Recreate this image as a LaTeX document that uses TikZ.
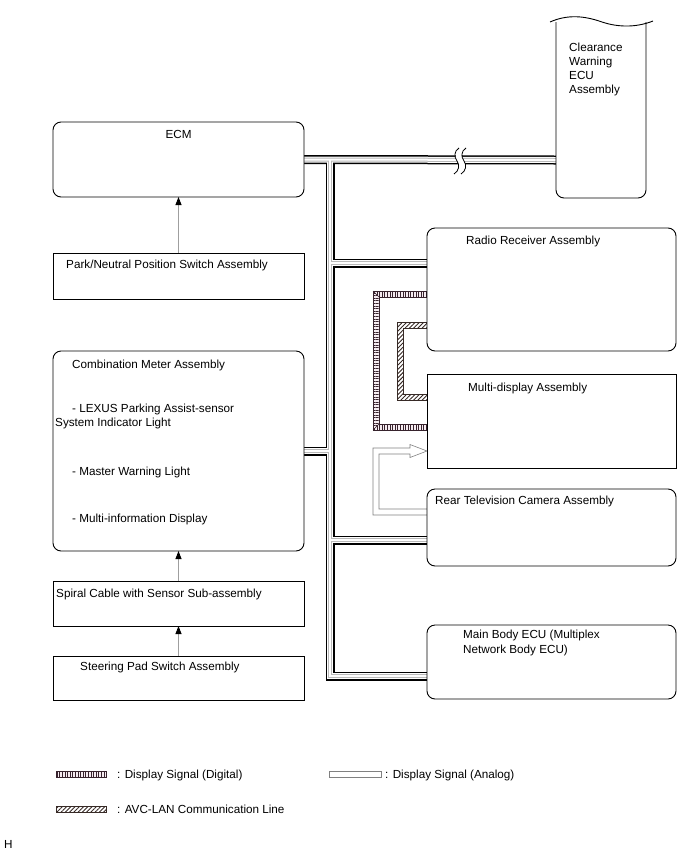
\documentclass[tikz,border=0pt]{standalone}
\usepackage{fontspec}
\setmainfont{Liberation Sans}
\usetikzlibrary{arrows.meta,patterns.meta,backgrounds}
\definecolor{dig}{RGB}{55,35,45}
\definecolor{digbg}{RGB}{246,236,241}
\definecolor{avc}{RGB}{55,42,38}
\begin{document}
\begin{tikzpicture}[x=1pt,y=1pt,
  font=\fontsize{11.7}{14}\selectfont,
  box/.style={draw=black, line width=0.9pt, fill=white, rounded corners=8pt, inner sep=0pt, outer sep=0pt, anchor=north west},
  sbox/.style={draw=black, line width=0.9pt, fill=white, inner sep=0pt, outer sep=0pt, anchor=north west},
  lbl/.style={anchor=base west, inner sep=0pt},
  arr/.style={draw=gray!75, line width=0.9pt, -{Triangle[length=8pt,width=6pt,color=black]}},
  sigline/.style={line width=0.6pt}]
\useasboundingbox (0,0) rectangle (688,-852);

% ---------- boxes ----------
\node[box,  minimum width=251pt, minimum height=75pt]  (ecm)    at (53,-122) {};
\node[sbox, minimum width=251pt, minimum height=46pt]  (park)   at (53,-253) {};
\node[box,  minimum width=251pt, minimum height=200pt] (comb)   at (53,-351) {};
\node[sbox, minimum width=251pt, minimum height=45pt]  (spiral) at (53,-581) {};
\node[sbox, minimum width=251pt, minimum height=44pt]  (steer)  at (53,-656) {};
\node[box,  minimum width=249pt, minimum height=123pt] (radio)  at (427,-228) {};
\node[sbox, minimum width=249pt, minimum height=94pt]  (multi)  at (427,-374) {};
\node[box,  minimum width=249pt, minimum height=77pt]  (rear)   at (427,-489) {};
\node[box,  minimum width=249pt, minimum height=74pt]  (body)   at (427,-625) {};

% Clearance warning ECU (torn top)
\path[fill=white] (556,-22) -- (556,-198) -- (646,-198) -- (646,-22) -- cycle;
\draw[line width=0.9pt, rounded corners=8pt] (556,-22) -- (556,-198) -- (646,-198) -- (646,-22);
\draw[line width=0.9pt] (550,-22) .. controls (568,-14) and (585,-16) .. (602,-22) .. controls (620,-28) and (638,-27) .. (653,-21);
\coordinate (clrL) at (556,-160);

% ---------- buses and signal lines (behind boxes) ----------
\begin{pgfonlayer}{background}
\foreach \w/\c in {9/black,6/white,4/gray!55,2/white}{
  \draw[line width=\w pt, color=\c] (ecm.east) -- (clrL);
  \draw[line width=\w pt, color=\c] (330,-160) -- (330,-676) -- (body.west |- 0,-676);
  \draw[line width=\w pt, color=\c] (330,-263) -- (radio.west |- 0,-263);
  \draw[line width=\w pt, color=\c] (comb.east |- 0,-451) -- (330,-451);
  \draw[line width=\w pt, color=\c] (330,-540) -- (rear.west |- 0,-540);
}
% break in bus
\draw[white, line width=6pt] (462.5,-148) .. controls (457.5,-151) and (457.5,-157) .. (460.5,-161) .. controls (463.5,-165) and (462.5,-171) .. (457.5,-174);
\draw[line width=0.8pt] (459,-148) .. controls (454,-151) and (454,-157) .. (457,-161) .. controls (460,-165) and (459,-171) .. (454,-174);
\draw[line width=0.8pt] (466,-148) .. controls (461,-151) and (461,-157) .. (464,-161) .. controls (467,-165) and (466,-171) .. (461,-174);

% digital display signal
\fill[digbg] (427,-291) -- (373,-291) -- (373,-430) -- (427,-430) -- (427,-424) -- (379,-424) -- (379,-297) -- (427,-297) -- cycle;
\fill[pattern={Lines[angle=90,distance=2.6pt,line width=0.9pt]}, pattern color=dig] (427,-291) -- (373,-291) -- (379,-297) -- (427,-297) -- cycle;
\fill[pattern={Lines[angle=0,distance=2.6pt,line width=0.9pt]}, pattern color=dig] (373,-291) -- (379,-297) -- (379,-424) -- (373,-430) -- cycle;
\fill[pattern={Lines[angle=90,distance=2.6pt,line width=0.9pt]}, pattern color=dig] (373,-430) -- (379,-424) -- (427,-424) -- (427,-430) -- cycle;
\draw[sigline, dig] (radio.west |- 0,-291) -- (373,-291) -- (373,-430) -- (multi.west |- 0,-430);
\draw[sigline, dig] (radio.west |- 0,-297) -- (379,-297) -- (379,-424) -- (multi.west |- 0,-424);
\draw[sigline, dig] (373,-291) -- (379,-297) (373,-430) -- (379,-424);

% AVC-LAN line
\fill[white] (427,-322) -- (397,-322) -- (397,-400) -- (427,-400) -- (427,-394) -- (403,-394) -- (403,-328) -- (427,-328) -- cycle;
\fill[pattern={Lines[angle=45,distance=3pt,line width=0.9pt]}, pattern color=avc] (427,-322) -- (397,-322) -- (397,-400) -- (427,-400) -- (427,-394) -- (403,-394) -- (403,-328) -- (427,-328) -- cycle;
\draw[sigline, avc] (radio.west |- 0,-322) -- (397,-322) -- (397,-400) -- (multi.west |- 0,-400);
\draw[sigline, avc] (radio.west |- 0,-328) -- (403,-328) -- (403,-394) -- (multi.west |- 0,-394);

% analog display signal (hollow arrow)
\draw[sigline, gray, fill=white] (rear.west |- 0,-509) -- (379,-509) -- (379,-454) -- (410,-454) -- (410,-457.5) -- (multi.west |- 0,-451) -- (410,-444.5) -- (410,-448) -- (373,-448) -- (373,-515) -- (rear.west |- 0,-515);
\end{pgfonlayer}

% ---------- thin arrows ----------
\draw[arr] (park.north) -- (ecm.south);
\draw[arr] (spiral.north) -- (comb.south);
\draw[arr] (steer.north) -- (spiral.south);

% ---------- texts ----------
\node[anchor=base, inner sep=0pt] (tecm) at (178.5,-138) {ECM};
\node[anchor=north west, align=left, inner sep=0pt, font=\fontsize{11.7}{13.8}\selectfont] (tclr) at (569,-43) {Clearance\\Warning\\ECU\\Assembly};
\node[lbl] (tpark)  at (66,-268)  {Park/Neutral Position Switch Assembly};
\node[lbl] (tcomb)  at (72,-368)  {Combination Meter Assembly};
\node[lbl] (tlex1)  at (72,-412)  {- LEXUS Parking Assist-sensor};
\node[lbl] (tlex2)  at (55,-426)  {System Indicator Light};
\node[lbl] (tmast)  at (72,-475)  {- Master Warning Light};
\node[lbl] (tmid)   at (72,-522)  {- Multi-information Display};
\node[lbl] (tspir)  at (56,-597)  {Spiral Cable with Sensor Sub-assembly};
\node[lbl] (tsteer) at (80,-670)  {Steering Pad Switch Assembly};
\node[lbl] (tradio) at (466,-244) {Radio Receiver Assembly};
\node[lbl] (tmulti) at (468,-391) {Multi-display Assembly};
\node[lbl] (trear)  at (435,-504) {Rear Television Camera Assembly};
\node[lbl] (tbody1) at (463,-638) {Main Body ECU (Multiplex};
\node[lbl] (tbody2) at (463,-653) {Network Body ECU)};

% ---------- legend ----------
\fill[digbg] (56,-771) rectangle (106,-777);
\fill[pattern={Lines[angle=90,distance=2.6pt,line width=0.9pt]}, pattern color=dig] (56,-771) rectangle (106,-777);
\draw[sigline, dig] (56,-771) rectangle (106,-777);
\node[lbl] (lgdig) at (117,-778) {: Display Signal (Digital)};
\draw[sigline, gray] (329,-771) rectangle (381,-777);
\node[lbl] (lgana) at (385,-778) {: Display Signal (Analog)};
\fill[pattern={Lines[angle=45,distance=3pt,line width=0.9pt]}, pattern color=avc] (56,-806) rectangle (106,-812);
\draw[sigline, avc] (56,-806) rectangle (106,-812);
\node[lbl] (lgavc) at (117,-813) {: AVC-LAN Communication Line};
\node[lbl] (th) at (4,-848) {H};
\end{tikzpicture}
\end{document}
